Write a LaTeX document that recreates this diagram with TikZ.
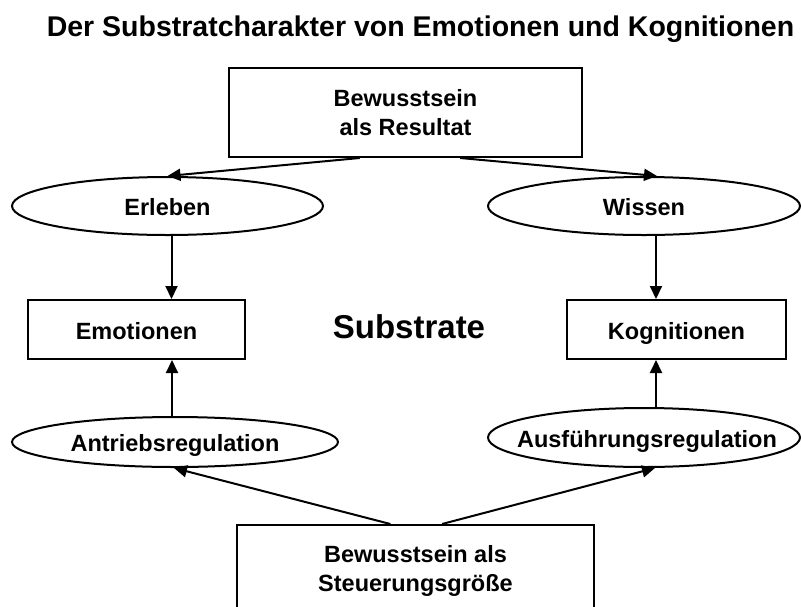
\documentclass[tikz,border=0pt]{standalone}
\usepackage{fontspec}
\setmainfont{Liberation Sans}
\usetikzlibrary{shapes.geometric,arrows.meta,calc}
\begin{document}
\begin{tikzpicture}[x=1pt,y=-1pt,
  box/.style={draw, line width=2pt, rectangle, inner sep=0pt, align=center, font=\fontsize{23.5}{28.5}\selectfont\bfseries},
  oval/.style={draw, line width=2pt, ellipse, inner sep=0pt},
  lbl/.style={font=\fontsize{23.5}{28.5}\selectfont\bfseries, align=center, inner sep=0pt},
  oneline/.style={text height=22pt, text depth=3pt},
  arr/.style={line width=2pt, -{Triangle[length=13pt,width=12pt]}}]
\useasboundingbox (0,0) rectangle (801,606);
\fill[white] (0,0) rectangle (801,606);
\node[font=\fontsize{28.5}{34}\selectfont\bfseries, anchor=base, inner sep=0pt] (title) at (420.5,36) {Der Substratcharakter von Emotionen und Kognitionen};
\node[box, minimum width=353pt, minimum height=89pt] (res) at (405.5,112.5) {Bewusstsein\\ als Resultat};
\node[oval, minimum width=311pt, minimum height=58pt] (erl) at (167.5,206) {};
\node[lbl, oneline] (erlT) at (erl) {Erleben};
\node[oval, minimum width=312pt, minimum height=58pt] (wis) at (644,206) {};
\node[lbl, oneline] (wisT) at (wis) {Wissen};
\node[box, oneline, minimum width=217pt, minimum height=59pt] (emo) at (136.5,329.5) {Emotionen};
\node[box, oneline, minimum width=219pt, minimum height=59pt] (kog) at (676.5,329.5) {Kognitionen};
\node[font=\fontsize{33}{38}\selectfont\bfseries, anchor=base, inner sep=0pt] (sub) at (409,338) {Substrate};
\node[oval, minimum width=326pt, minimum height=50pt] (anr) at (175,442) {};
\node[lbl, oneline] (anrT) at (anr) {Antriebsregulation};
\node[oval, minimum width=312pt, minimum height=59pt] (aus) at (644,437.5) {};
\node[lbl, oneline] (ausT) at (647,437.5) {Ausführungsregulation};
\node[box, minimum width=357pt, minimum height=130pt] (ctl) at (415.5,590) {};
\node[lbl] (ctlT) at (415.5,571) {Bewusstsein als\\ Steuerungsgröße};
\draw[arr] ($(res.south west)!0.371!(res.south east)$) -- (erl.north);
\draw[arr] ($(res.south west)!0.654!(res.south east)$) -- ([xshift=13pt]wis.north);
\draw[arr] ([xshift=4pt]erl.south) -- ([xshift=4pt]erl.south |- emo.north);
\draw[arr] ([xshift=12pt]wis.south) -- ([xshift=12pt]wis.south |- kog.north);
\draw[arr] ([xshift=-3pt]anr.north) -- ([xshift=-3pt]anr.north |- emo.south);
\draw[arr] ([xshift=12pt]aus.north) -- ([xshift=12pt]aus.north |- kog.south);
\draw[arr] ($(ctl.north west)!0.43!(ctl.north east)$) -- ([xshift=-1pt]anr.south);
\draw[arr] ($(ctl.north west)!0.574!(ctl.north east)$) -- ([xshift=11pt]aus.south);
\end{tikzpicture}
\end{document}
